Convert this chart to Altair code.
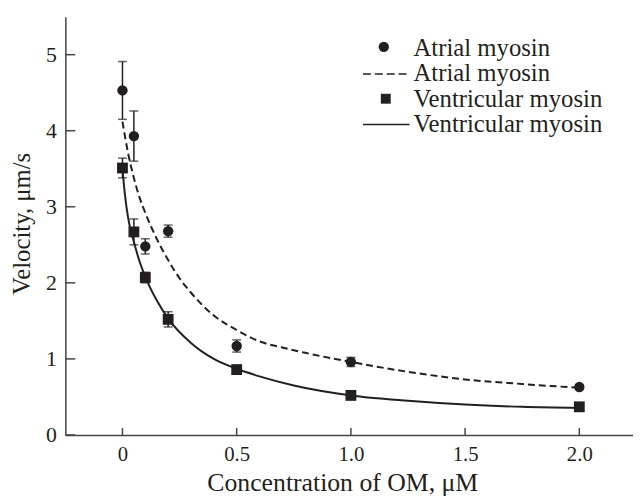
import altair as alt
import pandas as pd

# ---- data ----
conc = [0, 0.05, 0.1, 0.2, 0.5, 1.0, 2.0]
atrial_v = [4.53, 3.93, 2.48, 2.68, 1.17, 0.96, 0.63]
atrial_err = [0.38, 0.33, 0.10, 0.08, 0.08, 0.06, 0.03]
vent_v = [3.51, 2.67, 2.07, 1.52, 0.86, 0.52, 0.37]
vent_err = [0.13, 0.17, 0.07, 0.10, 0.03, 0.02, 0.02]

atrial_fit_x = [0, 0.025, 0.05, 0.075, 0.1, 0.15, 0.2, 0.25, 0.3, 0.4, 0.5, 0.6, 0.7, 0.8, 1.0, 1.25, 1.5, 1.75, 2.0]
atrial_fit_v = [4.12, 3.70, 3.38, 3.12, 2.92, 2.58, 2.30, 2.06, 1.87, 1.57, 1.38, 1.23, 1.15, 1.08, 0.96, 0.83, 0.73, 0.67, 0.62]
vent_fit_x = [0, 0.01, 0.025, 0.05, 0.075, 0.1, 0.15, 0.2, 0.3, 0.4, 0.5, 0.6, 0.75, 1.0, 1.25, 1.5, 1.75, 2.0]
vent_fit_v = [3.50, 3.18, 2.85, 2.54, 2.28, 2.08, 1.77, 1.53, 1.21, 1.00, 0.87, 0.77, 0.65, 0.52, 0.45, 0.40, 0.37, 0.355]

x_ticks = [0, 0.5, 1.0, 1.5, 2.0]
y_ticks = [0, 1, 2, 3, 4, 5]
legend_labels = ["Atrial myosin", "Atrial myosin", "Ventricular myosin", "Ventricular myosin"]

INK = "#231f20"
FONT = "Liberation Serif"
W, H = 574, 423

pts = pd.DataFrame({
    "x": conc * 2,
    "v": atrial_v + vent_v,
    "lo": [v - e for v, e in zip(atrial_v, atrial_err)] + [v - e for v, e in zip(vent_v, vent_err)],
    "hi": [v + e for v, e in zip(atrial_v, atrial_err)] + [v + e for v, e in zip(vent_v, vent_err)],
    "s": ["Atrial"] * len(conc) + ["Ventricular"] * len(conc),
})
fit_a = pd.DataFrame({"x": atrial_fit_x, "v": atrial_fit_v})
fit_v = pd.DataFrame({"x": vent_fit_x, "v": vent_fit_v})

xs = alt.Scale(domain=[-0.25, 2.235], nice=False, zero=False)
ys = alt.Scale(domain=[0, 5.5], nice=False, zero=False)

xax = alt.Axis(values=x_ticks, labelExpr="datum.value == 0 ? '0' : format(datum.value, '.1f')",
               title="Concentration of OM, μM", ticks=False, grid=False,
               labelFont=FONT, labelFontSize=21, labelColor=INK, labelPadding=9,
               titleFont=FONT, titleFontSize=26, titleFontWeight="normal", titleColor=INK,
               titleBaseline="alphabetic", titleX=280, titleY=56,
               domainColor="#444", domainWidth=1.5, labelFlush=False)
yax = alt.Axis(values=y_ticks, format="d", labelExpr="format(datum.value, 'd')",
               title="Velocity, μm/s", ticks=False, grid=False,
               labelFont=FONT, labelFontSize=22, labelColor=INK, labelPadding=9,
               titleFont=FONT, titleFontSize=25, titleFontWeight="normal", titleColor=INK,
               titleBaseline="alphabetic", titleX=-36, titleY=209, titleAngle=270,
               domainColor="#444", domainWidth=1.5, labelFlush=False)

base = alt.Chart(pts)

curve_a = alt.Chart(fit_a).mark_line(color=INK, strokeWidth=2, strokeDash=[7, 4], interpolate="monotone").encode(
    x=alt.X("x:Q", scale=xs, axis=xax), y=alt.Y("v:Q", scale=ys, axis=yax))
curve_v = alt.Chart(fit_v).mark_line(color=INK, strokeWidth=2, interpolate="monotone").encode(
    x=alt.X("x:Q", scale=xs), y=alt.Y("v:Q", scale=ys))

err = base.mark_rule(color=INK, strokeWidth=1.5).encode(
    x=alt.X("x:Q", scale=xs), y=alt.Y("lo:Q", scale=ys), y2="hi:Q")
cap_lo = base.mark_tick(color=INK, orient="horizontal", size=9, thickness=1.5).encode(
    x=alt.X("x:Q", scale=xs), y=alt.Y("lo:Q", scale=ys))
cap_hi = base.mark_tick(color=INK, orient="horizontal", size=9, thickness=1.5).encode(
    x=alt.X("x:Q", scale=xs), y=alt.Y("hi:Q", scale=ys))

circ = base.transform_filter(alt.datum.s == "Atrial").mark_point(
    shape="circle", filled=True, size=110, color=INK, opacity=1).encode(
    x=alt.X("x:Q", scale=xs), y=alt.Y("v:Q", scale=ys))
sq = base.transform_filter(alt.datum.s == "Ventricular").mark_point(
    shape="square", filled=True, size=120, color=INK, opacity=1).encode(
    x=alt.X("x:Q", scale=xs), y=alt.Y("v:Q", scale=ys))

# inward tick marks
xt = alt.Chart(pd.DataFrame({"t": x_ticks})).mark_rule(color="#444", strokeWidth=1.5).encode(
    x=alt.X("t:Q", scale=xs), y=alt.value(H), y2=alt.value(H - 7))
yt = alt.Chart(pd.DataFrame({"t": y_ticks})).mark_rule(color="#444", strokeWidth=1.5).encode(
    y=alt.Y("t:Q", scale=ys), x=alt.value(0), x2=alt.value(10))

# legend (drawn by hand)
leg_base = [39.5, 65.5, 91, 116.5]
leg_text = []
for i, lab in enumerate(legend_labels):
    leg_text.append(alt.Chart(pd.DataFrame({"label": [lab]})).mark_text(
        align="left", baseline="alphabetic", font=FONT, fontSize=25, color=INK).encode(
        text="label:N", x=alt.value(352), y=alt.value(leg_base[i])))
leg_circ = alt.Chart(pd.DataFrame({"a": [0]})).mark_point(shape="circle", filled=True, size=110, color=INK, opacity=1).encode(
    x=alt.value(322), y=alt.value(30.5))
leg_sq = alt.Chart(pd.DataFrame({"a": [0]})).mark_point(shape="square", filled=True, size=100, color=INK, opacity=1).encode(
    x=alt.value(324), y=alt.value(83))
leg_dash = alt.Chart(pd.DataFrame({"a": [0]})).mark_rule(color=INK, strokeWidth=1.5, strokeDash=[8, 4]).encode(
    x=alt.value(301), x2=alt.value(348), y=alt.value(58))
leg_solid = alt.Chart(pd.DataFrame({"a": [0]})).mark_rule(color=INK, strokeWidth=1.5).encode(
    x=alt.value(301), x2=alt.value(348), y=alt.value(109))

chart = alt.layer(curve_a, curve_v, err, cap_lo, cap_hi, circ, sq, xt, yt,
                  leg_circ, leg_dash, leg_sq, leg_solid, *leg_text).properties(
    width=W, height=H,
    padding={"left": 58, "top": 6, "right": 0, "bottom": 62},
    autosize=alt.AutoSizeParams(type="none"),
    background="white",
).configure_view(stroke=None)

chart.save("out.html", embed_options={"renderer": "svg", "actions": False})
